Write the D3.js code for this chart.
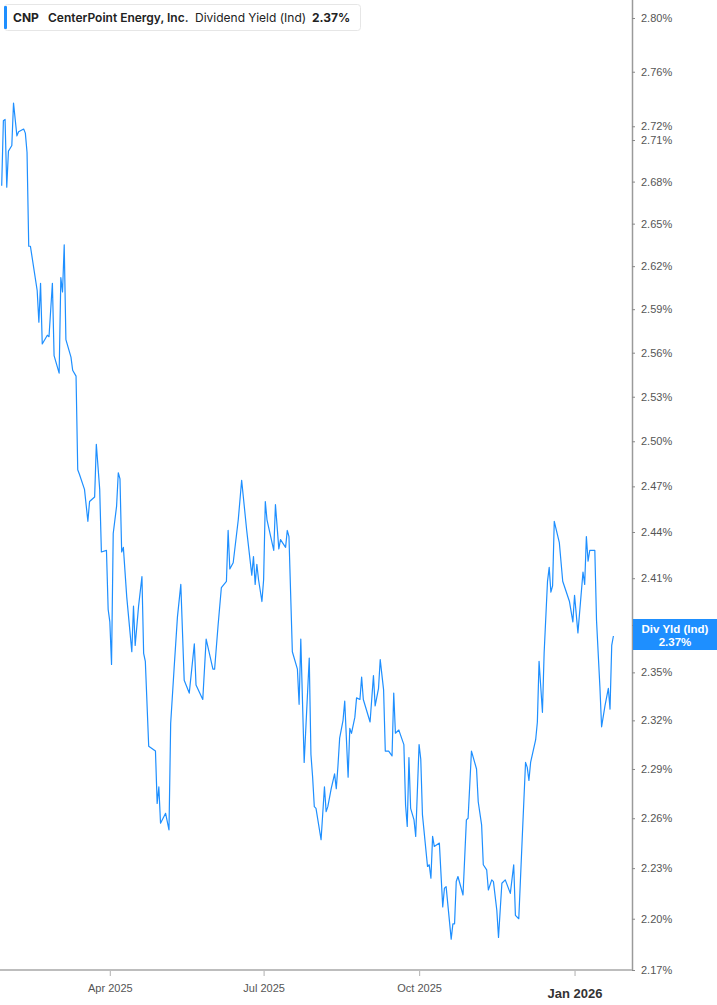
<!DOCTYPE html>
<html>
<head>
<meta charset="utf-8">
<script src="https://cdn.jsdelivr.net/npm/d3@7"></script>
<style>
  body { margin: 0; background: #fff; }
  svg { display: block; font-family: "Liberation Sans", Arial, sans-serif; }
</style>
</head>
<body>
<svg width="717" height="1005"></svg>
<script>
// CNP dividend yield (indicated)
var dates = [
  "2025-01-27","2025-01-28","2025-01-29","2025-01-30","2025-01-31","2025-02-02","2025-02-03","2025-02-05",
  "2025-02-06","2025-02-09","2025-02-10","2025-02-11","2025-02-12","2025-02-13","2025-02-17","2025-02-18",
  "2025-02-19","2025-02-20","2025-02-23","2025-02-24","2025-02-26","2025-02-27","2025-03-02","2025-03-03",
  "2025-03-04","2025-03-05","2025-03-06","2025-03-09","2025-03-10","2025-03-12","2025-03-13","2025-03-14",
  "2025-03-17","2025-03-19","2025-03-20","2025-03-23","2025-03-24","2025-03-26","2025-03-27","2025-03-30",
  "2025-03-31","2025-04-01","2025-04-02","2025-04-03","2025-04-05","2025-04-06","2025-04-07","2025-04-08",
  "2025-04-09","2025-04-11","2025-04-14","2025-04-15","2025-04-16","2025-04-18","2025-04-20","2025-04-21",
  "2025-04-22","2025-04-24","2025-04-28","2025-04-29","2025-04-30","2025-05-01","2025-05-04","2025-05-06",
  "2025-05-07","2025-05-09","2025-05-11","2025-05-13","2025-05-15","2025-05-18","2025-05-21","2025-05-22",
  "2025-05-26","2025-05-28","2025-06-01","2025-06-02","2025-06-04","2025-06-06","2025-06-09","2025-06-10",
  "2025-06-11","2025-06-13","2025-06-16","2025-06-18","2025-06-19","2025-06-21","2025-06-24","2025-06-25",
  "2025-06-26","2025-06-27","2025-06-28","2025-06-30","2025-07-01","2025-07-02","2025-07-03","2025-07-07",
  "2025-07-08","2025-07-10","2025-07-11","2025-07-14","2025-07-15","2025-07-16","2025-07-18","2025-07-21",
  "2025-07-22","2025-07-23","2025-07-25","2025-07-28","2025-07-29","2025-07-30","2025-07-31","2025-08-01",
  "2025-08-04","2025-08-06","2025-08-07","2025-08-08","2025-08-10","2025-08-12","2025-08-13","2025-08-14",
  "2025-08-15","2025-08-17","2025-08-18","2025-08-20","2025-08-21","2025-08-22","2025-08-24","2025-08-25",
  "2025-08-27","2025-08-28","2025-08-29","2025-09-02","2025-09-04","2025-09-05","2025-09-07","2025-09-08",
  "2025-09-10","2025-09-11","2025-09-13","2025-09-15","2025-09-16","2025-09-17","2025-09-19","2025-09-20",
  "2025-09-22","2025-09-23","2025-09-24","2025-09-25","2025-09-26","2025-09-28","2025-09-29","2025-10-01",
  "2025-10-02","2025-10-03","2025-10-06","2025-10-07","2025-10-08","2025-10-09","2025-10-10","2025-10-13",
  "2025-10-15","2025-10-16","2025-10-17","2025-10-20","2025-10-21","2025-10-22","2025-10-23","2025-10-24",
  "2025-10-27","2025-10-29","2025-10-30","2025-11-01","2025-11-04","2025-11-05","2025-11-07","2025-11-08",
  "2025-11-10","2025-11-11","2025-11-13","2025-11-14","2025-11-16","2025-11-17","2025-11-18","2025-11-19",
  "2025-11-21","2025-11-24","2025-11-26","2025-11-27","2025-11-29","2025-12-01","2025-12-03","2025-12-04",
  "2025-12-05","2025-12-06","2025-12-09","2025-12-10","2025-12-11","2025-12-13","2025-12-14","2025-12-16",
  "2025-12-17","2025-12-18","2025-12-19","2025-12-20","2025-12-23","2025-12-25","2025-12-29","2025-12-31",
  "2026-01-01","2026-01-03","2026-01-06","2026-01-07","2026-01-08","2026-01-09","2026-01-10","2026-01-13",
  "2026-01-14","2026-01-16","2026-01-17","2026-01-19","2026-01-21","2026-01-22","2026-01-23","2026-01-24"
];
var yields = [
  2.677,2.724,2.725,2.676,2.702,2.706,2.737,2.713,
  2.716,2.718,2.715,2.701,2.634,2.634,2.603,2.581,
  2.608,2.566,2.572,2.571,2.608,2.558,2.546,2.612,
  2.602,2.635,2.569,2.557,2.548,2.544,2.481,2.478,
  2.468,2.447,2.460,2.463,2.498,2.468,2.427,2.428,
  2.390,2.382,2.355,2.439,2.457,2.479,2.475,2.427,
  2.430,2.398,2.363,2.392,2.367,2.392,2.411,2.362,
  2.357,2.304,2.301,2.269,2.279,2.257,2.263,2.253,
  2.318,2.352,2.385,2.406,2.345,2.337,2.368,2.342,
  2.333,2.371,2.352,2.352,2.379,2.404,2.408,2.441,
  2.416,2.420,2.448,2.474,2.463,2.441,2.412,2.424,
  2.406,2.419,2.409,2.395,2.409,2.460,2.448,2.428,
  2.458,2.429,2.435,2.430,2.441,2.437,2.363,2.352,
  2.330,2.371,2.294,2.359,2.299,2.285,2.267,2.266,
  2.247,2.279,2.264,2.267,2.278,2.287,2.278,2.292,
  2.309,2.320,2.332,2.285,2.315,2.312,2.322,2.334,
  2.333,2.347,2.333,2.319,2.348,2.329,2.340,2.358,
  2.339,2.301,2.301,2.298,2.337,2.312,2.314,2.311,
  2.305,2.268,2.255,2.297,2.266,2.259,2.249,2.305,
  2.296,2.262,2.231,2.232,2.224,2.249,2.243,2.245,
  2.207,2.218,2.219,2.188,2.197,2.197,2.222,2.225,
  2.214,2.259,2.260,2.301,2.290,2.270,2.256,2.232,
  2.229,2.217,2.223,2.222,2.205,2.189,2.205,2.221,
  2.223,2.215,2.232,2.202,2.200,2.247,2.294,2.291,
  2.283,2.294,2.308,2.319,2.357,2.325,2.362,2.408,
  2.417,2.401,2.405,2.447,2.433,2.408,2.395,2.382,
  2.399,2.375,2.414,2.406,2.437,2.421,2.428,2.428,
  2.383,2.341,2.316,2.329,2.340,2.327,2.367,2.373
];
var yTicks = [2.80, 2.76, 2.72, 2.71, 2.68, 2.65, 2.62, 2.59, 2.56, 2.53, 2.50, 2.47,
              2.44, 2.41, 2.38, 2.35, 2.32, 2.29, 2.26, 2.23, 2.20, 2.17];
var xTicks = ["2025-04-01", "2025-07-01", "2025-10-01", "2026-01-01"];
var xLabels = ["Apr 2025", "Jul 2025", "Oct 2025", "Jan 2026"];
var header = ["CNP", "CenterPoint Energy, Inc.", "Dividend Yield (Ind)"];
var seriesLabel = "Div Yld (Ind)";

var parse = d3.timeParse("%Y-%m-%d");
var pct = d3.format(".2f");
var blue = "#1e8fff";

var svg = d3.select("svg"),
    plotW = 632,
    plotB = 970;

var data = dates.map(function(d, i) { return {date: parse(d), v: yields[i]}; });
var last = data[data.length - 1];

var x = d3.scaleTime()
    .domain([parse("2025-01-26"), parse("2026-02-04")])
    .range([0, plotW]);

var y = d3.scaleLog()
    .domain([2.17, 2.80])
    .range([plotB, 18]);

// right axis
var yAxis = svg.append("g")
    .attr("transform", "translate(" + plotW + ",0)")
    .call(d3.axisRight(y).tickValues(yTicks).tickSize(3).tickPadding(6)
      .tickFormat(function(d) { return pct(d) + "%"; }));
yAxis.select(".domain").attr("stroke", "#9a9a9a").attr("stroke-width", 1.5)
    .attr("d", "M0.5,0V" + plotB);
yAxis.selectAll(".tick line").attr("stroke", "#888");
yAxis.selectAll(".tick text").attr("fill", "#555").style("font-size", "11px");

// bottom axis
var xAxis = svg.append("g")
    .attr("transform", "translate(0," + plotB + ")")
    .call(d3.axisBottom(x).tickValues(xTicks.map(parse)).tickSize(6).tickPadding(8)
      .tickFormat(function(d, i) { return xLabels[i]; }));
xAxis.select(".domain").attr("stroke", "#bdbdbd").attr("stroke-width", 2)
    .attr("d", "M0,0H" + plotW);
xAxis.selectAll(".tick line").attr("stroke", "#bdbdbd").attr("stroke-width", 1.2);
xAxis.selectAll(".tick text").attr("fill", "#555").style("font-size", "11px");
xAxis.selectAll(".tick").filter(function(d, i) { return i === xTicks.length - 1; })
    .select("text").attr("fill", "#333").attr("dy", "1.05em")
    .style("font-size", "13px").style("font-weight", "bold");

// series
var line = d3.line()
    .x(function(d) { return x(d.date); })
    .y(function(d) { return y(d.v); });

svg.append("path")
    .datum(data)
    .attr("fill", "none")
    .attr("stroke", blue)
    .attr("stroke-width", 1.2)
    .attr("stroke-linejoin", "round")
    .attr("d", line);

// end-of-series label
var ly = y(last.v);
svg.append("rect")
    .attr("x", plotW + 1).attr("y", ly - 17)
    .attr("width", 717 - plotW).attr("height", 31)
    .attr("fill", blue);
var lab = svg.append("text")
    .attr("x", 675).attr("y", ly - 3)
    .attr("text-anchor", "middle")
    .attr("fill", "#fff")
    .style("font-size", "11.5px").style("font-weight", "bold");
lab.append("tspan").attr("x", 675).text(seriesLabel);
lab.append("tspan").attr("x", 675).attr("dy", 13).text(pct(last.v) + "%");

// header box
var hd = svg.append("g").style("font-family", "Inter, 'Noto Sans', sans-serif");
hd.append("rect")
    .attr("x", 4.5).attr("y", 4.5).attr("width", 356).attr("height", 26).attr("rx", 3)
    .attr("fill", "#fff").attr("stroke", "#e6e6e6");
hd.append("rect")
    .attr("x", 4).attr("y", 6).attr("width", 3).attr("height", 23).attr("rx", 1)
    .attr("fill", blue);
var ht = hd.append("text").attr("y", 21.5).attr("fill", "#222").style("font-size", "12px");
ht.append("tspan").attr("x", 13).style("font-weight", "bold").text(header[0]);
ht.append("tspan").attr("x", 48).style("font-weight", "600").text(header[1]);
ht.append("tspan").attr("x", 195).text(header[2]);
ht.append("tspan").attr("x", 312).style("font-weight", "bold").text(pct(last.v) + "%");
</script>
</body>
</html>
